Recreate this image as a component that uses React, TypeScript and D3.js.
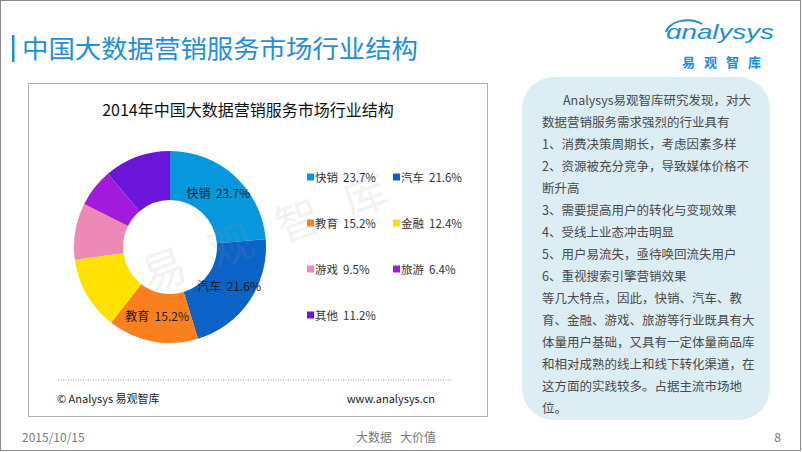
import React from 'react';
import * as d3 from 'd3';

// 2014年中国大数据营销服务市场行业结构 (%)
const categories = ['快销', '汽车', '教育', '金融', '游戏', '旅游', '其他'];
const shares = [23.7, 21.6, 15.2, 12.4, 9.5, 6.4, 11.2];
const colors = ['#0797DD', '#0B63C8', '#FA7F1F', '#FEE101', '#EE88B5', '#A21BDC', '#6B14DA'];

const noteLines = [
  'Analysys易观智库研究发现，对大',
  '数据营销服务需求强烈的行业具有',
  '1、消费决策周期长，考虑因素多样',
  '2、资源被充分竞争，导致媒体价格不',
  '断升高',
  '3、需要提高用户的转化与变现效果',
  '4、受线上业态冲击明显',
  '5、用户易流失，亟待唤回流失用户',
  '6、重视搜索引擎营销效果',
  '等几大特点，因此，快销、汽车、教',
  '育、金融、游戏、旅游等行业既具有大',
  '体量用户基础，又具有一定体量商品库',
  '和相对成熟的线上和线下转化渠道，在',
  '这方面的实践较多。占据主流市场地',
  '位。',
];

const FONT = '"Noto Sans CJK SC", "Noto Sans", sans-serif';

export default function App() {
  const cx = 170, cy = 247;
  const outerR = 96, innerR = 47;

  const pie = d3.pie<number>().value(d => d).sort(null);
  const arcs = pie(shares);
  const arc = d3.arc<d3.PieArcDatum<number>>().innerRadius(innerR).outerRadius(outerR);

  // legend: two columns
  const legendCol = d3.scalePoint<number>().domain([0, 1]).range([307, 393]);
  const legendRow = d3.scaleLinear().domain([0, 3]).range([177, 315]);

  const watermark = ['易', '观', '智', '库'];

  return (
    <svg width={802} height={452} style={{position: 'absolute', left: 0, top: 0, fontFamily: FONT}}>
      <rect x={0} y={0} width={802} height={452} fill="#fff"/>
      <rect x={0.5} y={0.5} width={800} height={450} fill="none" stroke="#8a8a8a"/>

      {/* header */}
      <rect x={12} y={35} width={2.5} height={27} fill="#1E8FD8"/>
      <text x={22} y={58} fontSize={25} fill="#1E8FD8" textLength={396} lengthAdjust="spacingAndGlyphs">
        中国大数据营销服务市场行业结构
      </text>

      {/* logo */}
      <path d="M666,32 C670,20 690,17 702,24" fill="none" stroke="#1A8FD6" strokeWidth={2}/>
      <text x={666} y={39} fontSize={21} fontStyle="italic" fill="#1A8FD6"
            fontFamily="'Liberation Sans', Arial, sans-serif" textLength={108} lengthAdjust="spacingAndGlyphs">
        ɑnalysys
      </text>
      <text x={682} y={67} fontSize={13} fontWeight="bold" fill="#1A8FD6" letterSpacing={9}>易观智库</text>

      {/* chart box */}
      <rect x={28.5} y={83.5} width={459} height={333} fill="#fff" stroke="#b0b0b0"/>
      <text x={248} y={116} fontSize={16} textAnchor="middle" fill="#111">2014年中国大数据营销服务市场行业结构</text>

      <g transform={`translate(${cx},${cy})`}>
        {arcs.map((a, i) => (
          <path key={categories[i]} d={arc(a) || ''} fill={colors[i]}/>
        ))}
        {arcs.filter(a => a.data >= 15).map(a => {
          const [lx, ly] = arc.centroid(a);
          return (
            <text key={a.index} x={lx} y={ly + 4} fontSize={12} textAnchor="middle" fill="#1a1a1a">
              {categories[a.index]}{'\u00a0\u00a0'}{a.data.toFixed(1)}%
            </text>
          );
        })}
      </g>

      {/* watermark */}
      {watermark.map((ch, i) => {
        const x = 163 + i * 67, y = 267 - i * 24.5;
        return (
          <text key={ch} x={x} y={y} fontSize={44} textAnchor="middle" dominantBaseline="central"
                fill="#9a9a9a" opacity={0.12} transform={`rotate(-20 ${x} ${y})`}>{ch}</text>
        );
      })}

      {/* legend */}
      {categories.map((c, i) => {
        const x = legendCol(i % 2) as number;
        const y = legendRow(Math.floor(i / 2));
        return (
          <g key={c} fontSize={11.5} fill="#333">
            <rect x={x} y={y - 3.5} width={7} height={7} fill={colors[i]}/>
            <text x={x + 8} y={y + 4.5}>{c}</text>
            <text x={x + 36} y={y + 4.5}>{shares[i].toFixed(1)}%</text>
          </g>
        );
      })}

      <line x1={58} x2={452} y1={380} y2={380} stroke="#999" strokeDasharray="1,1.5"/>
      <text x={57} y={403} fontSize={11} fill="#222">© Analysys 易观智库</text>
      <text x={435} y={403} fontSize={11} fill="#222" textAnchor="end">www.analysys.cn</text>

      {/* note box */}
      <rect x={522} y={77} width={248} height={343} rx={32} ry={32} fill="#DCEDF4"/>
      {noteLines.map((line, i) => (
        <text key={i} x={i === 0 ? 563 : 542} y={104.5 + i * 22} fontSize={12.5} fill="#4a4a4a">{line}</text>
      ))}

      {/* page footer */}
      <text x={22} y={442} fontSize={12} fill="#7a7a7a">2015/10/15</text>
      <text x={356} y={442} fontSize={12} fill="#7a7a7a">大数据{'\u00a0\u00a0\u00a0'}大价值</text>
      <text x={781} y={442} fontSize={12} fill="#7a7a7a" textAnchor="end">8</text>
    </svg>
  );
}
